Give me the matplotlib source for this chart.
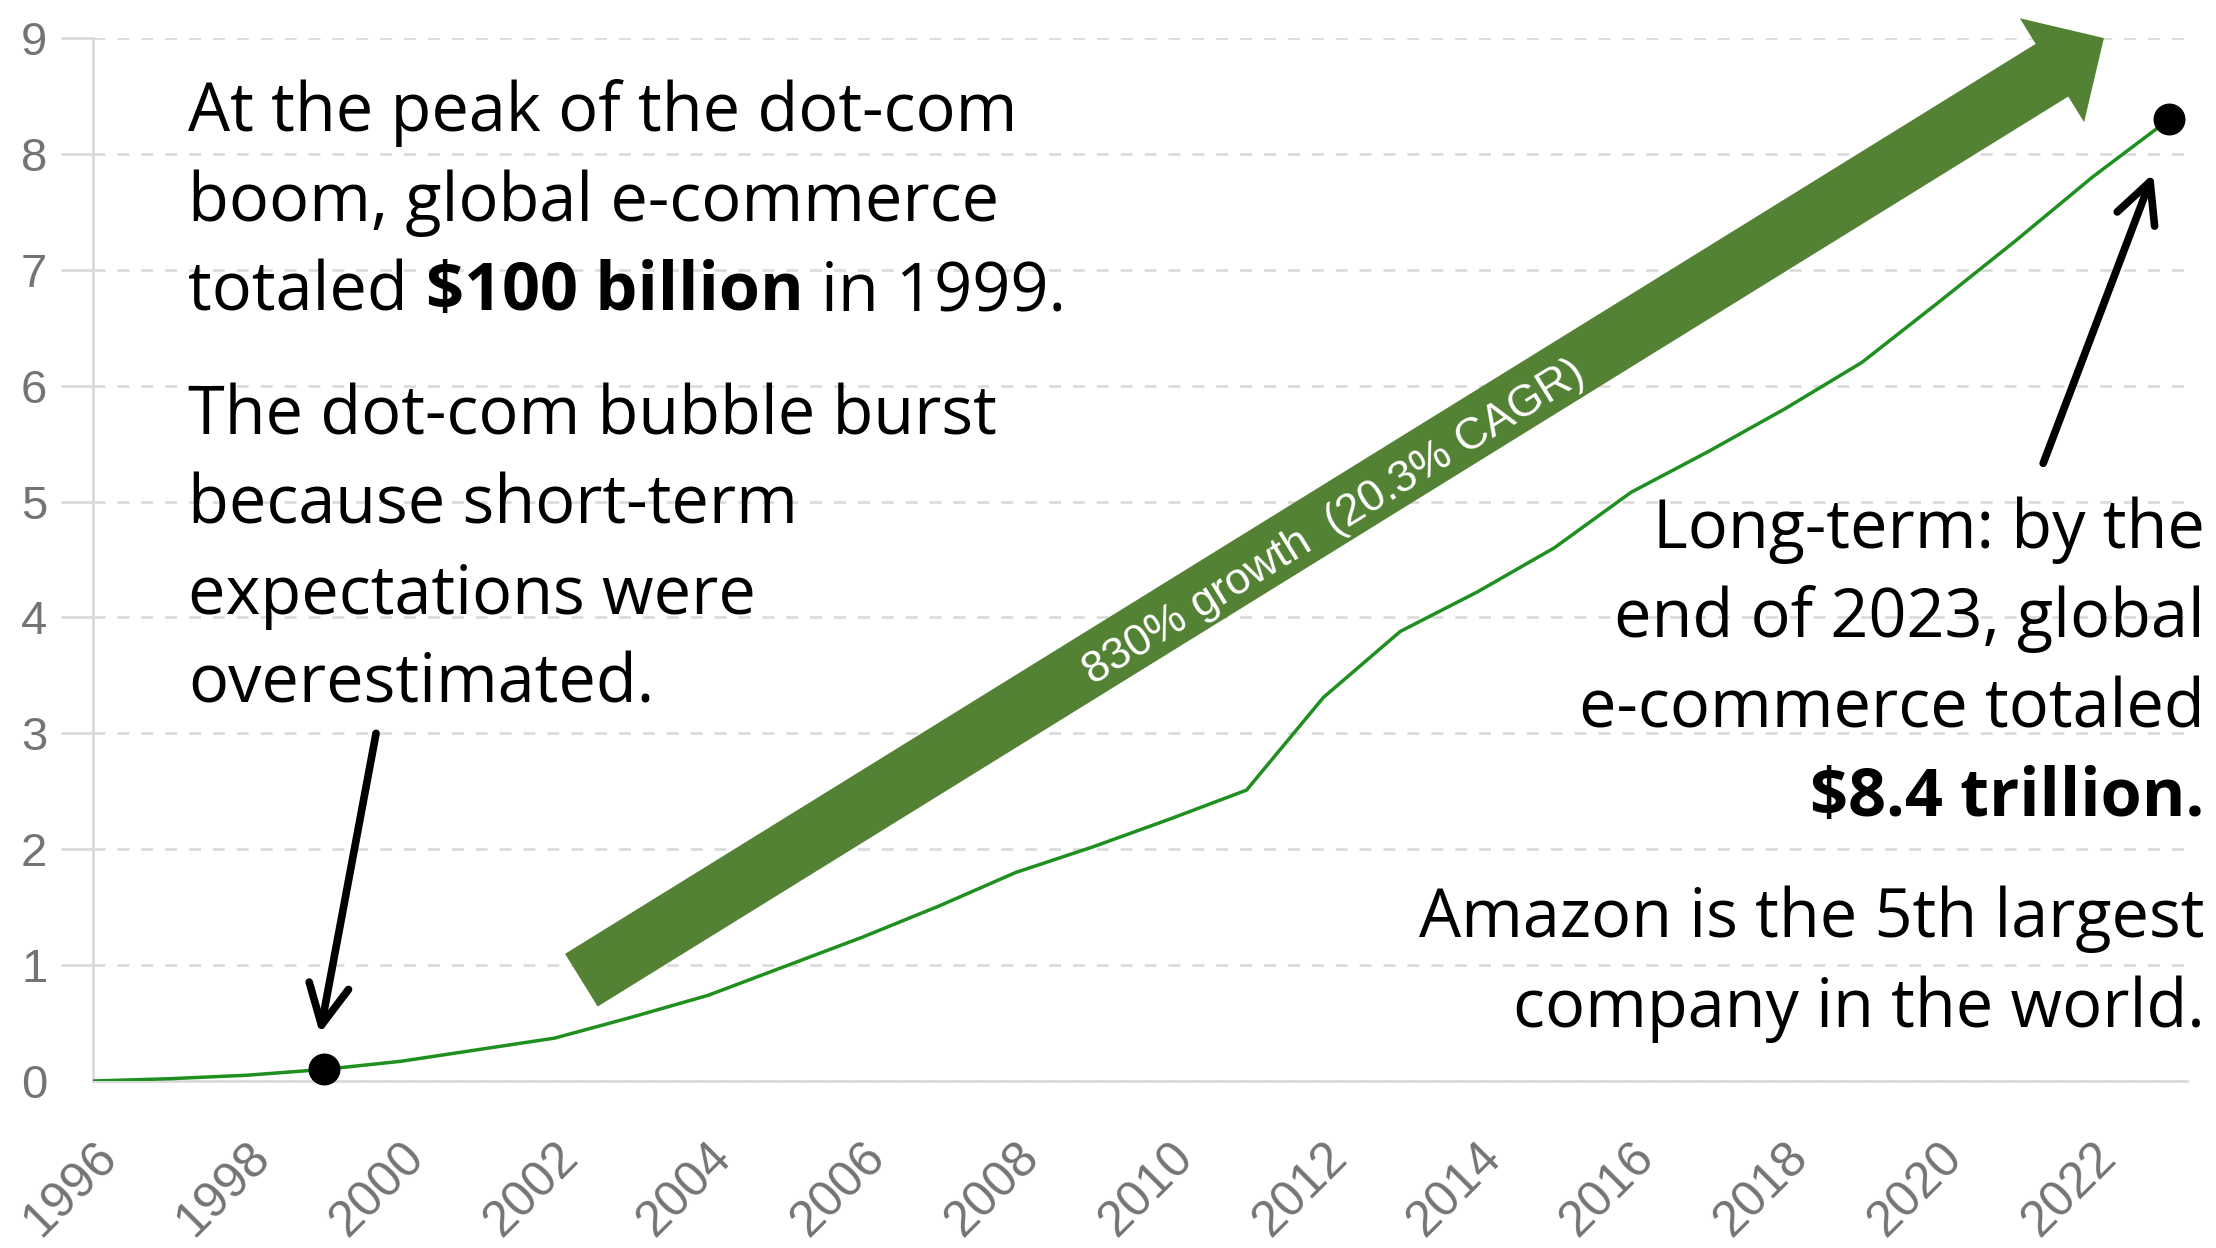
import math

import matplotlib
matplotlib.use("Agg")
import matplotlib.pyplot as plt

# global e-commerce sales, trillion USD
years = list(range(1996, 2024))
sales = [0.0, 0.02, 0.05, 0.10, 0.17, 0.27, 0.37, 0.55, 0.74, 0.99,
         1.24, 1.51, 1.80, 2.02, 2.26, 2.51, 3.31, 3.88, 4.22, 4.60,
         5.08, 5.43, 5.80, 6.20, 6.72, 7.25, 7.80, 8.30]
dot_years = [1999, 2023]
dot_vals = [sales[years.index(y)] for y in dot_years]
xtick_years = list(range(1996, 2023, 2))
ytick_vals = list(range(0, 10))

peak_lines = ["At the peak of the dot-com", "boom, global e-commerce"]
burst_lines = ["The dot-com bubble burst", "because short-term",
               "expectations were", "overestimated."]
long_lines = ["Long-term: by the", "end of 2023, global", "e-commerce totaled"]
amazon_lines = ["Amazon is the 5th largest", "company in the world."]

body_font = "Open Sans"
tick_font = "Liberation Sans"
green = "#548235"
gray_txt = "#747474"
gray_line = "#dadada"

fig = plt.figure(figsize=(22.16, 12.48), dpi=100)
ax = fig.add_axes([0.042, 0.1338, 0.9449, 0.8357])

ax.plot(years, sales, color="#1f8f1f", lw=2.5, zorder=3)
ax.plot(dot_years, dot_vals, "o", color="black", ms=22, zorder=5, clip_on=False)

ax.set_xlim(1996, 2023.23)
ax.set_ylim(0, 9)
ax.set_yticks(ytick_vals)
ax.set_yticklabels([str(v) for v in ytick_vals], family=tick_font)
ax.set_xticks(xtick_years)
ax.set_xticklabels([str(y) for y in xtick_years], rotation=45, ha="right",
                   rotation_mode="anchor", family=tick_font)
ax.tick_params(axis="x", length=0, pad=38, labelsize=36, labelcolor=gray_txt)
ax.tick_params(axis="y", length=23, width=2, color=gray_line, pad=10,
               labelsize=34, labelcolor=gray_txt)
ax.yaxis.get_major_ticks()[0].tick1line.set_visible(False)
ax.grid(axis="y", color="#dcdcdc", lw=2, ls=(0, (4.3, 4.3)))
ax.set_axisbelow(True)
for s in ["top", "right"]:
    ax.spines[s].set_visible(False)
for s in ["left", "bottom"]:
    ax.spines[s].set_color(gray_line)
    ax.spines[s].set_linewidth(2)

# big green growth arrow
tail = (2002.35, 0.87)
tip = (2022.15, 9.0)
ax.annotate("", xy=tip, xytext=tail, annotation_clip=False,
            arrowprops=dict(arrowstyle="simple,head_length=44,head_width=88,tail_width=44.6",
                            mutation_scale=1, color=green, lw=0,
                            shrinkA=0, shrinkB=0), zorder=2)
p0 = ax.transData.transform(tail)
p1 = ax.transData.transform(tip)
ang = math.degrees(math.atan2(p1[1] - p0[1], p1[0] - p0[0]))
ax.text(2012.14, 4.82, "830% growth  (20.3% CAGR)", rotation=ang,
        rotation_mode="anchor", ha="center", va="center", color="white",
        fontsize=32, family=tick_font, zorder=3)

# black pointer arrows
ax.annotate("", xy=(1998.95, 0.41), xytext=(1999.68, 3.0),
            arrowprops=dict(arrowstyle="->,head_length=0.72,head_width=0.36",
                            mutation_scale=40, lw=5.5, color="black",
                            shrinkA=0, shrinkB=0))
ax.annotate("", xy=(2022.79, 7.83), xytext=(2021.36, 5.33), annotation_clip=False,
            arrowprops=dict(arrowstyle="->,head_length=0.72,head_width=0.36",
                            mutation_scale=40, lw=5.5, color="black",
                            shrinkA=0, shrinkB=0))

# left texts
fs = 48
left_x = 1997.24
for line, y in zip(peak_lines, [8.20, 7.42]):
    ax.text(left_x, y, line, fontsize=fs, family=body_font, va="baseline")
t1 = ax.text(left_x, 6.65, "totaled", fontsize=fs, family=body_font, va="baseline")
t2 = ax.annotate("$100 billion", xy=(1, 0), xycoords=t1, xytext=(12.5, 0),
                 textcoords="offset points", va="bottom", ha="left",
                 fontsize=fs, family=body_font, weight="bold")
ax.annotate("in 1999.", xy=(1, 0), xycoords=t2, xytext=(12.5, 0),
            textcoords="offset points", va="bottom", ha="left",
            fontsize=fs, family=body_font)
for line, y in zip(burst_lines, [5.58, 4.81, 4.03, 3.27]):
    ax.text(left_x, y, line, fontsize=fs, family=body_font, va="baseline")

# right texts
right_x = 2023.46
for line, y in zip(long_lines, [4.60, 3.83, 3.05]):
    ax.text(right_x, y, line, fontsize=fs, family=body_font, va="baseline", ha="right")
ax.text(right_x, 2.29, "$8.4 trillion.", fontsize=fs, family=body_font,
        va="baseline", ha="right", weight="bold")
for line, y in zip(amazon_lines, [1.24, 0.47]):
    ax.text(right_x, y, line, fontsize=fs, family=body_font, va="baseline", ha="right")

fig.savefig("out.png", dpi=100, facecolor="white")
